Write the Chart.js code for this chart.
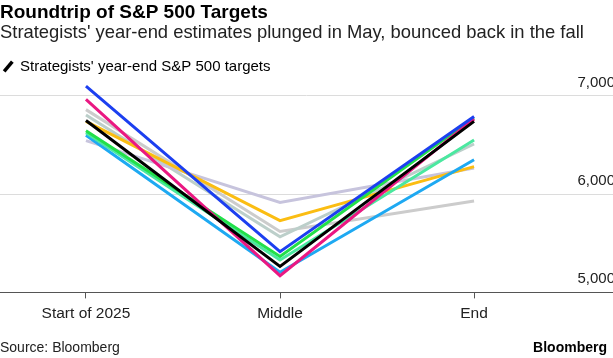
<!DOCTYPE html>
<html>
<head>
<meta charset="utf-8">
<script src="https://cdn.jsdelivr.net/npm/chart.js@4"></script>
<style>
  html, body { margin: 0; padding: 0; background: #fff; }
  #wrap { position: relative; width: 613px; height: 358px; font-family: "Liberation Sans", Arial, sans-serif; }
  #chart { position: absolute; left: 0; top: 0; }
  .foot { position: absolute; top: 339px; font-size: 14px; color: #222; }
</style>
</head>
<body>
<div id="wrap">
  <canvas id="chart" width="613" height="358"></canvas>
  <div class="foot" style="left:0">Source: Bloomberg</div>
  <div class="foot" style="right:6px;font-weight:bold;color:#000">Bloomberg</div>
</div>
<script>
const categories = ['Start of 2025', 'Middle', 'End'];
const yTicks = [5000, 6000, 7000];

// year-end S&P 500 targets by strategist
const black     = [6750, 5265, 6740];
const blue      = [7100, 5415, 6790];
const magenta   = [6965, 5170, 6765];
const green     = [6645, 5365, 6775];
const mint      = [6625, 5330, 6550];
const cyan      = [6600, 5205, 6350];
const yellow    = [6740, 5730, 6280];
const lavender  = [6545, 5915, 6265];
const sage      = [6805, 5565, 6510];
const lightGray = [6860, 5620, 5930];

const series = [
  { data: black, color: '#000000' },
  { data: blue, color: '#1c3ff0' },
  { data: magenta, color: '#ea1882' },
  { data: green, color: '#22e04a' },
  { data: mint, color: '#4be8a0' },
  { data: cyan, color: '#1ea9f2' },
  { data: yellow, color: '#fbbd12' },
  { data: lavender, color: '#c7c4dd' },
  { data: sage, color: '#bccfca' },
  { data: lightGray, color: '#cccccc' }
];

const datasets = series.map(s => ({
  data: s.data.map((v, i) => ({ x: i, y: v })),
  borderColor: s.color,
  borderWidth: 3,
  pointRadius: 0,
  tension: 0,
  fill: false
}));

Chart.defaults.font.family = '"Liberation Sans", Arial, sans-serif';

new Chart(document.getElementById('chart'), {
  type: 'line',
  data: { datasets },
  options: {
    responsive: false,
    animation: false,
    events: [],
    layout: { padding: { left: 0, right: 0, top: 0, bottom: 29 } },
    plugins: {
      title: {
        display: true,
        text: 'Roundtrip of S&P 500 Targets',
        align: 'start',
        color: '#000',
        font: { size: 19, weight: 'bold', lineHeight: 1.0 },
        padding: { top: 3, bottom: 0 }
      },
      subtitle: {
        display: true,
        text: "Strategists' year-end estimates plunged in May, bounced back in the fall",
        align: 'start',
        color: '#222',
        font: { size: 18.4 },
        padding: { bottom: 11 }
      },
      legend: {
        display: true,
        align: 'start',
        labels: {
          usePointStyle: true,
          boxHeight: 9,
          boxWidth: 8.5,
          padding: 4,
          color: '#222',
          font: { size: 15 },
          generateLabels: () => [{
            text: "Strategists' year-end S&P 500 targets",
            fillStyle: '#000',
            strokeStyle: '#000',
            lineWidth: 3.5,
            pointStyle: 'line',
            rotation: -50,
            hidden: false,
            datasetIndex: 0
          }]
        }
      },
      tooltip: { enabled: false }
    },
    scales: {
      x: {
        type: 'linear',
        min: -0.443,
        max: 2.716,
        grid: { drawOnChartArea: false, drawTicks: true, tickLength: 6, color: '#555' },
        border: { display: true, color: '#555', width: 1 },
        ticks: {
          stepSize: 1,
          includeBounds: false,
          autoSkip: false,
          maxRotation: 0,
          padding: 6,
          color: '#222',
          font: { size: 15.5 },
          callback: v => categories[v] ?? ''
        }
      },
      y: {
        position: 'right',
        min: 5000,
        max: 7120,
        afterFit: axis => { axis.width = 0; },
        afterBuildTicks: axis => { axis.ticks = yTicks.map(v => ({ value: v })); },
        grid: { drawTicks: false, color: '#dcdcdc', lineWidth: 1 },
        border: { display: false },
        ticks: {
          mirror: true,
          padding: 2,
          labelOffset: -13.5,
          color: '#222',
          font: { size: 15 },
          callback: v => v.toLocaleString('en-US')
        }
      }
    }
  }
});
</script>
</body>
</html>
